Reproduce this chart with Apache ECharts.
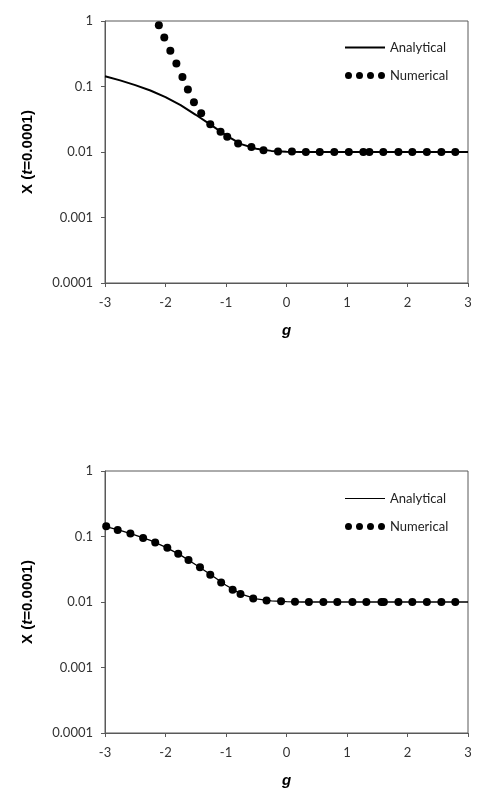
<!DOCTYPE html>
<html>
<head>
<meta charset="utf-8">
<script src="https://cdn.jsdelivr.net/npm/echarts@6/dist/echarts.min.js"></script>
<style>
  html, body { margin: 0; padding: 0; background: #fff; }
  #chart { width: 481px; height: 805px; }
</style>
</head>
<body>
<div id="chart"></div>
<script>
// analytical curve (shared by both panels)
const gAnalytical = [-3, -2.75, -2.5, -2.25, -2, -1.75, -1.5, -1.25, -1, -0.75, -0.5, -0.25, 0, 0.25, 0.5, 1, 1.5, 2, 2.5, 3];
const xAnalytical = [0.143, 0.124, 0.105, 0.087, 0.069, 0.052, 0.037, 0.026, 0.018, 0.0132, 0.0112, 0.0104, 0.0101, 0.0100, 0.0100, 0.0100, 0.0100, 0.0100, 0.0100, 0.0100];

// numerical points, top panel
const gNumTop = [-2.11, -2.02, -1.92, -1.82, -1.72, -1.63, -1.53, -1.41, -1.26, -1.09, -0.98, -0.80, -0.58, -0.38, -0.14, 0.09, 0.32, 0.55, 0.79, 1.03, 1.27, 1.37, 1.60, 1.85, 2.08, 2.32, 2.56, 2.79];
const xNumTop = [0.86, 0.56, 0.35, 0.224, 0.14, 0.09, 0.0576, 0.0389, 0.0266, 0.0204, 0.0171, 0.0135, 0.0119, 0.0106, 0.0102, 0.0102, 0.0100, 0.0100, 0.0100, 0.0100, 0.0100, 0.0100, 0.0100, 0.0100, 0.0100, 0.0100, 0.0100, 0.0100];

// numerical points, bottom panel
const gNumBottom = [-2.98, -2.79, -2.58, -2.37, -2.17, -1.97, -1.79, -1.62, -1.43, -1.26, -1.08, -0.89, -0.76, -0.55, -0.33, -0.09, 0.14, 0.37, 0.61, 0.84, 1.09, 1.32, 1.57, 1.61, 1.85, 2.08, 2.32, 2.56, 2.79];
const xNumBottom = [0.1435, 0.126, 0.111, 0.095, 0.081, 0.0674, 0.0543, 0.0436, 0.034, 0.026, 0.0199, 0.0154, 0.0132, 0.01135, 0.01057, 0.0103, 0.0101, 0.0100, 0.0100, 0.0100, 0.0100, 0.0100, 0.0100, 0.0100, 0.0100, 0.0100, 0.0100, 0.0100, 0.0100];

const yTickLabels = ['0.0001', '0.001', '0.01', '0.1', '1'];
const xTickLabels = ['-3', '-2', '-1', '0', '1', '2', '3'];

const pairs = (xs, ys) => xs.map((x, i) => [x, ys[i]]);

const labelFont = 'Lato, "Liberation Sans", sans-serif';
const axisColor = '#595959';
const dotsIcon = 'path://M0,3.5a3.5,3.5 0 1,0 7,0a3.5,3.5 0 1,0 -7,0z' +
  'M11,3.5a3.5,3.5 0 1,0 7,0a3.5,3.5 0 1,0 -7,0z' +
  'M22,3.5a3.5,3.5 0 1,0 7,0a3.5,3.5 0 1,0 -7,0z' +
  'M33,3.5a3.5,3.5 0 1,0 7,0a3.5,3.5 0 1,0 -7,0z';

function xAxisFor(gridIndex) {
  return {
    type: 'value', gridIndex: gridIndex, min: -3, max: 3, interval: 1,
    name: 'g', nameLocation: 'middle', nameGap: 40,
    nameTextStyle: { fontFamily: '"Liberation Sans", Arial, sans-serif', fontWeight: 'bold', fontStyle: 'italic', fontSize: 15, color: '#000' },
    axisLine: { onZero: false, lineStyle: { color: axisColor, width: 1 } },
    axisTick: { show: true, inside: false, length: 4, lineStyle: { color: axisColor } },
    axisLabel: { margin: 13, fontFamily: labelFont, fontSize: 13, color: '#333',
      formatter: v => xTickLabels[Math.round(v) + 3] },
    splitLine: { show: false }
  };
}

function yAxisFor(gridIndex) {
  return {
    type: 'log', logBase: 10, gridIndex: gridIndex, min: 0.0001, max: 1,
    name: '{b|X (}{i|t}{b|=0.0001)}', nameLocation: 'middle', nameGap: 70, nameRotate: 90,
    nameTextStyle: {
      rich: {
        b: { fontFamily: '"Liberation Sans", Arial, sans-serif', fontWeight: 'bold', fontSize: 15, color: '#000' },
        i: { fontFamily: '"Liberation Sans", Arial, sans-serif', fontWeight: 'bold', fontStyle: 'italic', fontSize: 15, color: '#000' }
      }
    },
    axisLine: { show: true, onZero: false, lineStyle: { color: axisColor, width: 1 } },
    axisTick: { show: true, inside: false, length: 4, lineStyle: { color: axisColor } },
    minorTick: { show: false },
    axisLabel: { margin: 12, fontFamily: labelFont, fontSize: 13, color: '#333',
      formatter: v => yTickLabels[Math.round(Math.log10(v)) + 4] },
    splitLine: { show: false }
  };
}

function legendFor(top, lineWidth) {
  return {
    orient: 'vertical', left: 345, top: top, padding: 0,
    itemWidth: 40, itemHeight: 7, itemGap: 15, symbolKeepAspect: true,
    textStyle: { fontFamily: labelFont, fontSize: 13, color: '#222' },
    data: [
      { name: 'Analytical', icon: 'path://M0,0H40V' + lineWidth + 'H0Z', itemStyle: { color: '#000', opacity: 1 } },
      { name: 'Numerical', icon: dotsIcon, itemStyle: { color: '#000', opacity: 1 } }
    ]
  };
}

const chart = echarts.init(document.getElementById('chart'), null, { renderer: 'canvas' });

chart.setOption({
  animation: false,
  backgroundColor: '#fff',
  grid: [
    { left: 105, top: 21, width: 363, height: 262, show: true, borderColor: axisColor, borderWidth: 1, backgroundColor: 'transparent' },
    { left: 105, top: 471, width: 363, height: 262, show: true, borderColor: axisColor, borderWidth: 1, backgroundColor: 'transparent' }
  ],
  legend: [legendFor(41, 2), legendFor(492, 1)],
  xAxis: [xAxisFor(0), xAxisFor(1)],
  yAxis: [yAxisFor(0), yAxisFor(1)],
  series: [
    {
      name: 'Analytical', type: 'line', xAxisIndex: 0, yAxisIndex: 0,
      data: pairs(gAnalytical, xAnalytical), showSymbol: false, symbol: 'none',
      lineStyle: { color: '#000', width: 2 }, itemStyle: { color: '#000' }
    },
    {
      name: 'Numerical', type: 'scatter', xAxisIndex: 0, yAxisIndex: 0,
      data: pairs(gNumTop, xNumTop), symbolSize: 8, itemStyle: { color: '#000', opacity: 1 }
    },
    {
      name: 'Analytical', type: 'line', xAxisIndex: 1, yAxisIndex: 1,
      data: pairs(gAnalytical, xAnalytical), showSymbol: false, symbol: 'none',
      lineStyle: { color: '#000', width: 1.3 }, itemStyle: { color: '#000' }
    },
    {
      name: 'Numerical', type: 'scatter', xAxisIndex: 1, yAxisIndex: 1,
      data: pairs(gNumBottom, xNumBottom), symbolSize: 8, itemStyle: { color: '#000', opacity: 1 }
    }
  ]
});
</script>
</body>
</html>
